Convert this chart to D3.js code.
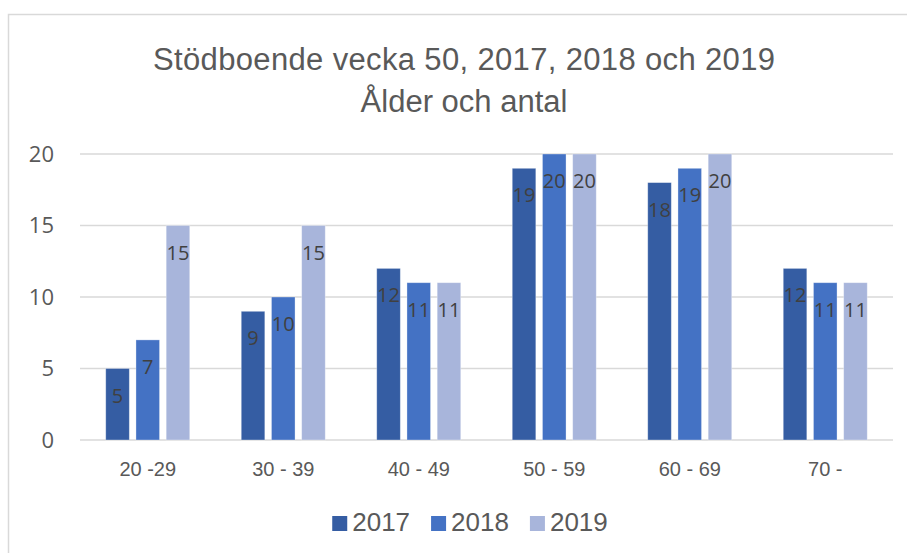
<!DOCTYPE html>
<html>
<head>
<meta charset="utf-8">
<script src="https://cdn.jsdelivr.net/npm/d3@7"></script>
<style>
  body { margin: 0; background: #fff; }
  svg { display: block; }
</style>
</head>
<body>
<div id="chart"></div>
<script>
// Datos del gráfico
const categories = ["20 -29", "30 - 39", "40 - 49", "50 - 59", "60 - 69", "70 -"];
const years = ["2017", "2018", "2019"];
const values2017 = [5, 9, 12, 19, 18, 12];
const values2018 = [7, 10, 11, 20, 19, 11];
const values2019 = [15, 15, 11, 20, 20, 11];
const yTicks = [0, 5, 10, 15, 20];
const colors = ["#355da3", "#4472c4", "#a8b5db"];

const W = 907, H = 553;
const plot = { left: 80, right: 893, top: 154, bottom: 440 };
const sans = "'Liberation Sans', Arial, sans-serif";

const series = years.map((y, i) => ({
  year: y,
  values: [values2017, values2018, values2019][i]
}));

const svg = d3.select("#chart").append("svg")
  .attr("width", W)
  .attr("height", H);

// Marco
svg.append("rect")
  .attr("x", 8.5).attr("y", 14.5)
  .attr("width", W + 10).attr("height", H + 10)
  .attr("fill", "#fff")
  .attr("stroke", "#d9d9d9")
  .attr("stroke-width", 1.5);

// Título
const title = svg.append("text")
  .attr("text-anchor", "middle")
  .attr("fill", "#595959")
  .style("font-family", sans)
  .style("font-size", "31px");
title.append("tspan").attr("x", 464).attr("y", 70)
  .attr("textLength", 622).attr("lengthAdjust", "spacing")
  .text("Stödboende vecka 50, 2017, 2018 och 2019");
title.append("tspan").attr("x", 464).attr("y", 112)
  .text("Ålder och antal");

// Escalas
const x0 = d3.scaleBand()
  .domain(categories)
  .range([plot.left, plot.right])
  .paddingInner(0.38)
  .paddingOuter(0.19);

const x1 = d3.scaleBand()
  .domain(years)
  .range([0, x0.bandwidth()])
  .paddingInner(0.22);

const y = d3.scaleLinear().domain([0, 20]).range([plot.bottom, plot.top]);

// Líneas de cuadrícula
svg.append("g")
  .selectAll("line")
  .data(yTicks)
  .join("line")
  .attr("x1", plot.left).attr("x2", plot.right)
  .attr("y1", d => y(d)).attr("y2", d => y(d))
  .attr("stroke", "#d9d9d9")
  .attr("stroke-width", 1.5);

// Eje Y
const yAxis = svg.append("g")
  .attr("transform", `translate(${plot.left - 26},0)`)
  .call(d3.axisLeft(y).tickValues(yTicks).tickSize(0).tickPadding(0));
yAxis.select(".domain").remove();
yAxis.selectAll("text")
  .attr("fill", "#595959")
  .style("font-family", "'Open Sans', sans-serif")
  .style("font-size", "22px");

// Eje X
const xAxis = svg.append("g")
  .attr("transform", `translate(0,${plot.bottom})`)
  .call(d3.axisBottom(x0).tickSize(0).tickPadding(22));
xAxis.select(".domain").remove();
xAxis.selectAll("text")
  .attr("fill", "#595959")
  .style("font-family", sans)
  .style("font-size", "20px");

// Barras
const groups = svg.append("g")
  .selectAll("g")
  .data(series)
  .join("g")
  .attr("fill", (d, i) => colors[i]);

groups.selectAll("rect")
  .data(s => s.values.map((v, i) => ({ year: s.year, cat: categories[i], v })))
  .join("rect")
  .attr("x", d => x0(d.cat) + x1(d.year))
  .attr("y", d => y(d.v))
  .attr("width", x1.bandwidth())
  .attr("height", d => y(0) - y(d.v))
  .attr("stroke", "#fff")
  .attr("stroke-opacity", 0.4)
  .attr("stroke-width", 0.8);

// Etiquetas de datos
groups.selectAll("text")
  .data(s => s.values.map((v, i) => ({ year: s.year, cat: categories[i], v })))
  .join("text")
  .attr("x", d => x0(d.cat) + x1(d.year) + x1.bandwidth() / 2)
  .attr("y", d => y(d.v) + 34)
  .attr("text-anchor", "middle")
  .attr("fill", "#404040")
  .style("font-family", "'Open Sans', sans-serif")
  .style("font-size", "20px")
  .text(d => d.v);

// Leyenda
const legend = svg.append("g");
const items = legend.selectAll("g")
  .data(series)
  .join("g");
items.append("rect")
  .attr("y", 516)
  .attr("width", 15).attr("height", 15)
  .attr("fill", (d, i) => colors[i]);
items.append("text")
  .attr("x", 20)
  .attr("y", 531)
  .attr("fill", "#595959")
  .style("font-family", sans)
  .style("font-size", "26px")
  .text(d => d.year);

let offset = 0;
const spacing = 21;
items.each(function () {
  const w = 20 + d3.select(this).select("text").node().getComputedTextLength();
  d3.select(this).attr("transform", `translate(${offset},0)`);
  offset += w + spacing;
});
const legendWidth = offset - spacing;
legend.attr("transform", `translate(${470 - legendWidth / 2},0)`);
</script>
</body>
</html>
